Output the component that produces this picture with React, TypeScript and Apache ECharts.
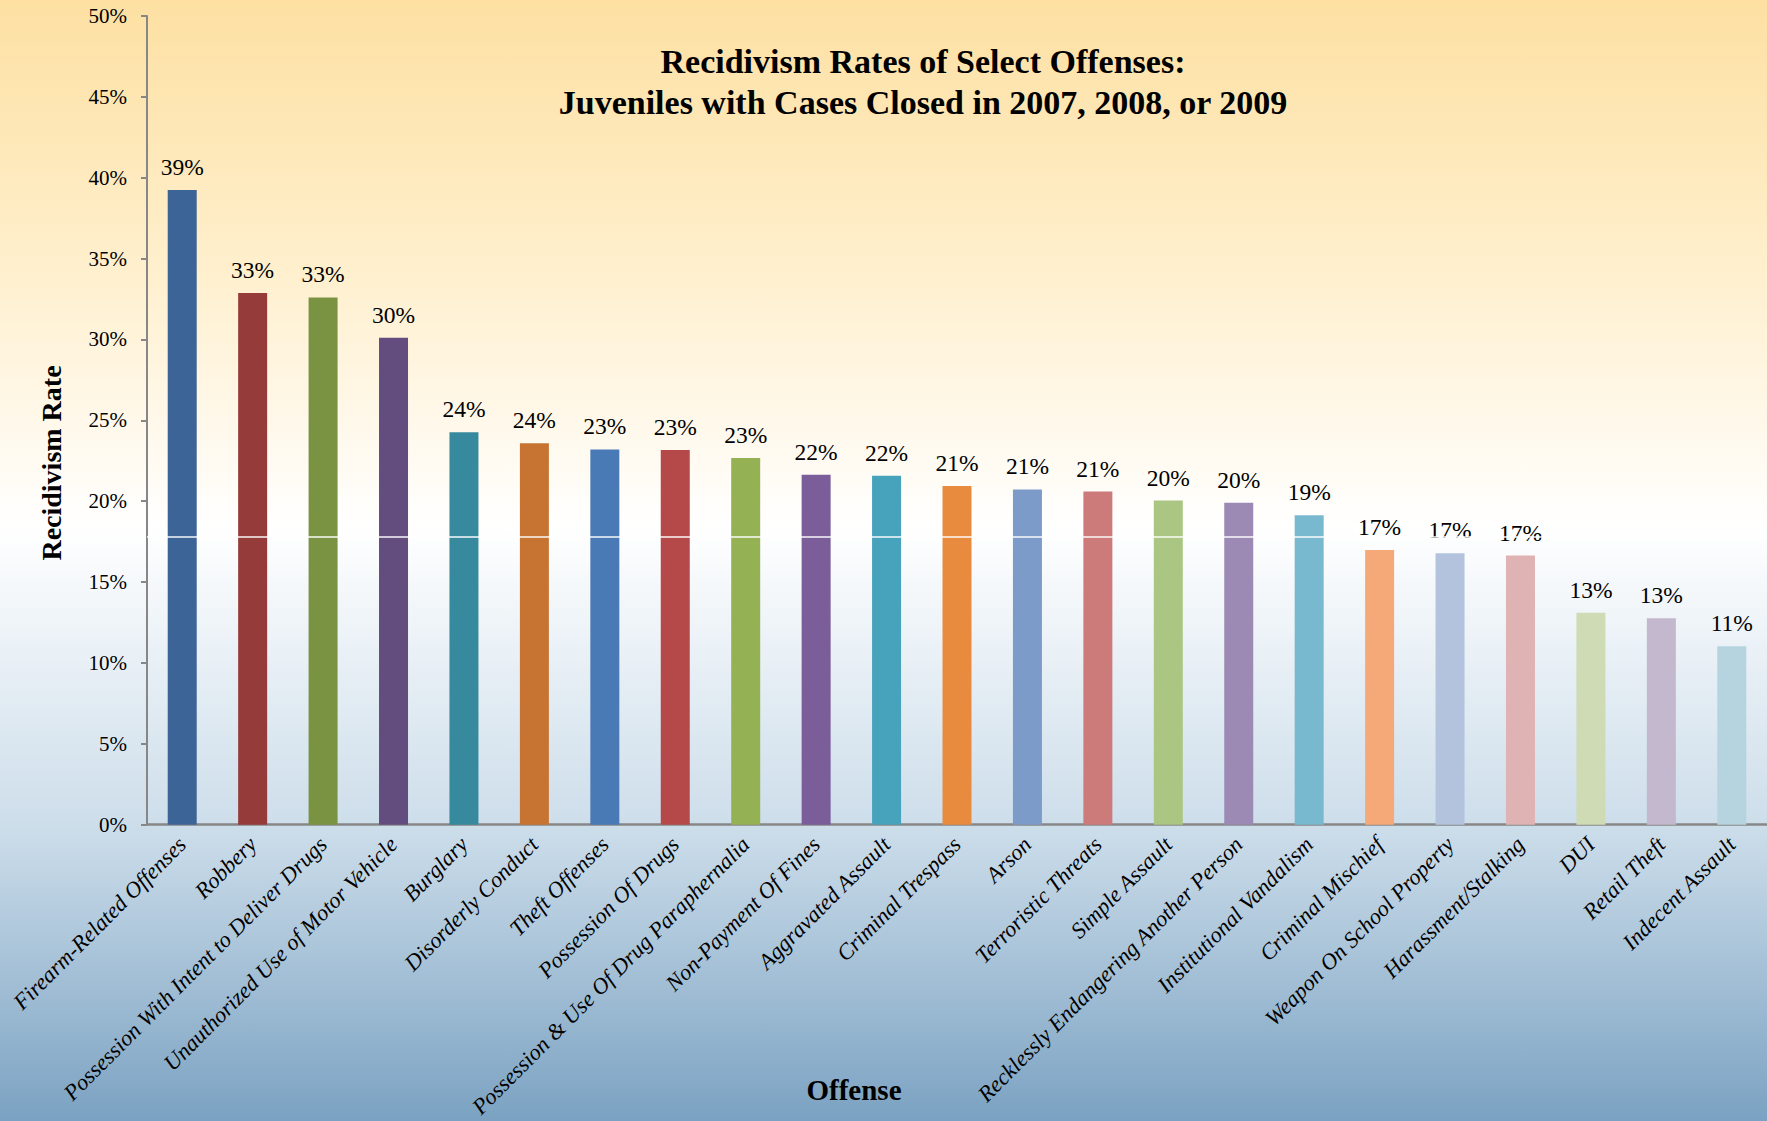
import React, { useEffect, useRef } from "react";
import * as echarts from "echarts";

const categories = [
  "Firearm-Related Offenses",
  "Robbery",
  "Possession With Intent to Deliver Drugs",
  "Unauthorized Use of Motor Vehicle",
  "Burglary",
  "Disorderly Conduct",
  "Theft Offenses",
  "Possession Of Drugs",
  "Possession & Use Of Drug Paraphernalia",
  "Non-Payment Of Fines",
  "Aggravated Assault",
  "Criminal Trespass",
  "Arson",
  "Terroristic Threats",
  "Simple Assault",
  "Recklessly Endangering Another Person",
  "Institutional Vandalism",
  "Criminal Mischief",
  "Weapon On School Property",
  "Harassment/Stalking",
  "DUI",
  "Retail Theft",
  "Indecent Assault",
];

const rates = [
  39.25, 32.87, 32.6, 30.1, 24.27, 23.58, 23.2, 23.16, 22.68, 21.64, 21.57,
  20.94, 20.73, 20.6, 20.04, 19.9, 19.14, 16.99, 16.78, 16.64, 13.1, 12.76,
  11.03,
];

const barColors = [
  "#3D6496", "#953B39", "#7A9342", "#634D7E", "#378A9E", "#C77433",
  "#4A7AB5", "#B5494A", "#94B153", "#7A5D99", "#47A3BB", "#E98B3E",
  "#7C9BC8", "#CD7B7A", "#ABC682", "#9C8AB4", "#79B9CF", "#F6A978",
  "#B3C3DE", "#DFB3B4", "#CEDBB5", "#C4B8CE", "#B5D4DF",
];

const yTicks = { min: 0, max: 50, interval: 5 };

// thin white seam visible across the taller bars in the reference
const seamValue = [17.8];

const titleLines = [
  "Recidivism Rates of Select Offenses:",
  "Juveniles with Cases Closed in 2007, 2008, or 2009",
];

const FONT = "'Liberation Serif', 'DejaVu Serif', serif";

export default function App() {
  const ref = useRef<HTMLDivElement>(null);

  useEffect(() => {
    if (!ref.current) return;
    const chart = echarts.init(ref.current, null, { renderer: "svg" });
    chart.setOption({
      animation: false,
      backgroundColor: {
        type: "linear",
        x: 0,
        y: 0,
        x2: 0,
        y2: 1,
        colorStops: [
          { offset: 0, color: "#FDE0A2" },
          { offset: 0.25, color: "#FFF0CF" },
          { offset: 0.47, color: "#FFFFFF" },
          { offset: 0.74, color: "#CCDDEA" },
          { offset: 1, color: "#7BA2C2" },
        ],
      },
      title: {
        text: titleLines.join("\n"),
        left: 918,
        top: 36,
        textAlign: "center",
        textStyle: {
          fontFamily: FONT,
          fontSize: 34,
          fontWeight: "bold",
          color: "#000",
          lineHeight: 41,
        },
      },
      grid: { left: 147, right: 0, top: 16, bottom: 293, containLabel: false },
      xAxis: {
        type: "category",
        data: categories,
        axisLine: { show: true, lineStyle: { color: "#878787", width: 2.5 } },
        axisTick: { show: false },
        axisLabel: {
          rotate: 45,
          interval: 0,
          margin: 16,
          fontFamily: FONT,
          fontStyle: "italic",
          fontSize: 22.5,
          color: "#000",
        },
      },
      yAxis: {
        type: "value",
        min: yTicks.min,
        max: yTicks.max,
        interval: yTicks.interval,
        axisLine: { show: true, lineStyle: { color: "#878787", width: 2 } },
        axisTick: { show: true, length: 6, lineStyle: { color: "#878787", width: 2 } },
        splitLine: { show: false },
        axisLabel: {
          formatter: "{value}%",
          margin: 20,
          fontFamily: FONT,
          fontSize: 21,
          color: "#000",
        },
      },
      graphic: [
        {
          type: "text",
          x: 51,
          y: 463,
          rotation: Math.PI / 2,
          style: {
            text: "Recidivism Rate",
            fontFamily: FONT,
            fontSize: 28,
            fontWeight: "bold",
            fill: "#000",
            textAlign: "center",
            textVerticalAlign: "middle",
          },
        },
        {
          type: "text",
          x: 854,
          y: 1090,
          style: {
            text: "Offense",
            fontFamily: FONT,
            fontSize: 29,
            fontWeight: "bold",
            fill: "#000",
            textAlign: "center",
            textVerticalAlign: "middle",
          },
        },
      ],
      series: [
        {
          type: "bar",
          data: rates.map((v, i) => ({
            value: v,
            itemStyle: { color: barColors[i] },
          })),
          barWidth: 29,
          label: {
            show: true,
            position: "top",
            distance: 11,
            formatter: (p: any) => Math.round(p.value) + "%",
            fontFamily: FONT,
            fontSize: 23.5,
            color: "#000",
          },
          markLine: {
            silent: true,
            symbol: ["none", "none"],
            label: { show: false },
            lineStyle: { color: "#FFFFFF", width: 1.5, type: "solid", opacity: 0.95 },
            data: seamValue.map((v) => ({ yAxis: v })),
          },
        },
      ],
    });
    return () => chart.dispose();
  }, []);

  return (
    <div
      ref={ref}
      style={{ position: "fixed", left: 0, top: 0, width: 1767, height: 1121 }}
    />
  );
}
